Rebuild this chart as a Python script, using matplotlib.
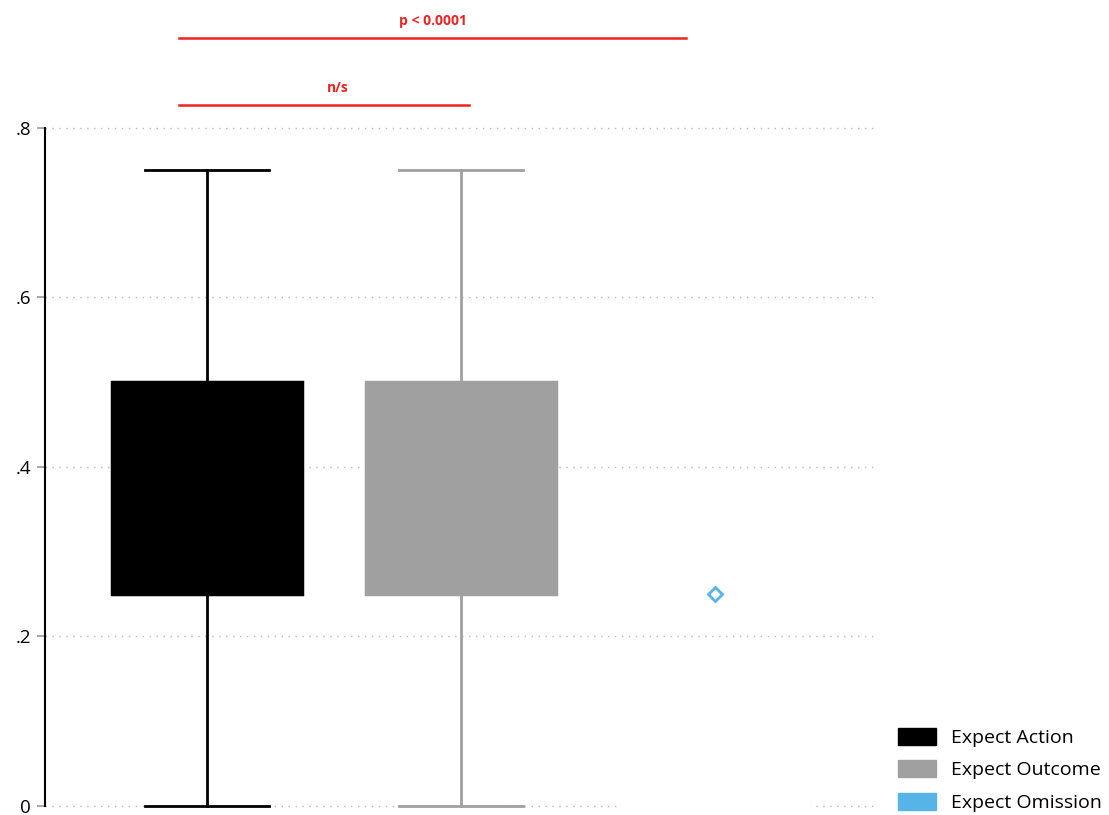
import matplotlib.pyplot as plt
from matplotlib.patches import Patch

plt.rcParams['font.family'] = ['Open Sans', 'DejaVu Sans']

# data
groups = ["Expect Action", "Expect Outcome", "Expect Omission"]
colors = ["#000000", "#a0a0a0", "#56b4e9"]
whis_lo = [0.0, 0.0, 0.0]
q1 = [0.25, 0.25, 0.0]
med = [0.25, 0.25, 0.0]
q3 = [0.5, 0.5, 0.0]
whis_hi = [0.75, 0.75, 0.0]
outliers = [[], [], [0.25]]

yticks = [0, 0.2, 0.4, 0.6, 0.8]
ytick_labels = ["0", ".2", ".4", ".6", ".8"]

# significance brackets: (start group, end group, label)
brackets = [(1, 2, "n/s"), (1, 3, "p < 0.0001")]

fig = plt.figure(figsize=(11.09, 8.15), dpi=100)
ax = fig.add_axes([0.0406, 0.0115, 0.7484, 0.8314])

stats = []
for i, g in enumerate(groups):
    stats.append(dict(label=g, whislo=whis_lo[i], q1=q1[i], med=med[i],
                      q3=q3[i], whishi=whis_hi[i], fliers=outliers[i]))

pos = [1, 2, 3]
for i, s in enumerate(stats):
    c = colors[i]
    edge = c if i < 2 else "white"
    art = ax.bxp([s], positions=[pos[i]], widths=0.75, patch_artist=True,
                 showfliers=True,
                 boxprops=dict(facecolor=c if i < 2 else "white", edgecolor=edge, linewidth=2.5),
                 whiskerprops=dict(color=edge, linewidth=2),
                 capprops=dict(color=edge, linewidth=2),
                 medianprops=dict(color=edge, linewidth=2),
                 capwidths=0.49,
                 flierprops=dict(marker="D", markersize=7, markerfacecolor="none",
                                 markeredgecolor=c, markeredgewidth=2))
    for key in ["boxes", "whiskers", "caps", "medians"]:
        for a in art[key]:
            a.set_clip_on(False)
            a.set_zorder(3)

ax.set_xlim(0.362, 3.63)
ax.set_ylim(0, 0.8)
ax.set_yticks(yticks)
ax.set_yticklabels(ytick_labels, fontsize=13.5)
ax.set_xticks([])
ax.tick_params(axis="y", length=6, color="#999999", width=1.2, pad=4)
ax.yaxis.grid(True, linestyle=(0, (1, 4)), color="#bbbbbb", linewidth=1)
for gl in ax.get_ygridlines():
    gl.set_clip_on(False)
ax.set_axisbelow(True)
for side in ["top", "right", "bottom"]:
    ax.spines[side].set_visible(False)
ax.spines["left"].set_linewidth(1.5)

levels = [0.827, 0.906]
for (a, b, txt), y in zip(brackets, levels):
    x0 = a - 0.11
    x1 = b - 0.114 if b == 3 else b + 0.03
    ax.plot([x0, x1], [y, y], color="#ee2222", linewidth=1.8, clip_on=False)
    xm = (x0 + x1) / 2
    if b == 2:
        xm += 0.055
    ax.text(xm, y + 0.012, txt, color="#ee2222", fontsize=10, fontweight="bold",
            ha="center", va="bottom")

handles = [Patch(facecolor=c, edgecolor=c, label=g) for g, c in zip(groups, colors)]
fig.legend(handles=handles, loc="lower left", bbox_to_anchor=(0.7944, -0.018),
           frameon=False, fontsize=14, handlelength=1.95, handleheight=0.95,
           labelspacing=0.7, handletextpad=0.75)

fig.savefig("out.png", dpi=100)
